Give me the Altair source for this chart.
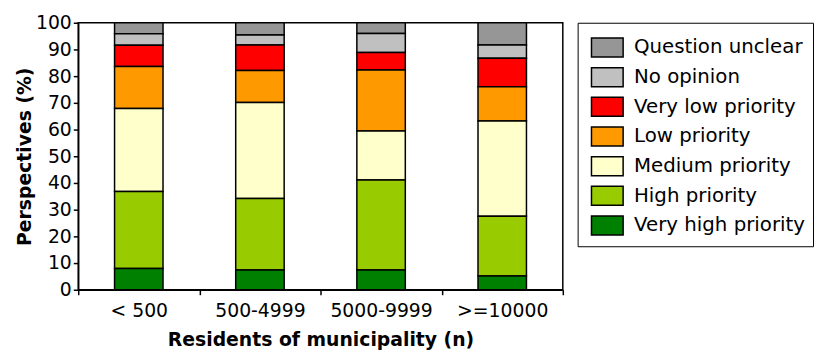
import altair as alt
import pandas as pd

groups = ["< 500", "500-4999", "5000-9999", ">=10000"]
categories = ["Question unclear", "No opinion", "Very low priority", "Low priority",
              "Medium priority", "High priority", "Very high priority"]
colors = ["#969696", "#c0c0c0", "#ff0000", "#ff9900", "#ffffcc", "#99cc00", "#008000"]

# values per category (same order as categories), one entry per group
question_unclear = [4.1, 4.6, 4.0, 8.3]
no_opinion = [4.3, 3.7, 7.1, 5.0]
very_low = [8.0, 9.6, 6.6, 10.7]
low = [15.7, 12.0, 22.8, 12.8]
medium = [31.1, 35.9, 18.4, 35.7]
high = [28.8, 26.8, 33.7, 22.3]
very_high = [8.0, 7.4, 7.4, 5.2]

series = [question_unclear, no_opinion, very_low, low, medium, high, very_high]

rows = []
for ci, (cat, vals) in enumerate(zip(categories, series)):
    for g, v in zip(groups, vals):
        rows.append({"group": g, "category": cat, "value": v, "stack": len(categories) - ci})
df = pd.DataFrame(rows)

FONT = "DejaVu Sans"

chart = alt.Chart(df).mark_bar(
    width={"band": 0.4}, stroke="black", strokeWidth=1.5
).encode(
    x=alt.X("group:N", sort=groups, scale=alt.Scale(paddingInner=0, paddingOuter=0),
            axis=alt.Axis(title="Residents of municipality (n)", labelAngle=0,
                          tickBand="extent", tickSize=5, labelPadding=7,
                          titlePadding=10)),
    y=alt.Y("value:Q", stack="zero",
            scale=alt.Scale(domain=[0, 100], nice=False),
            axis=alt.Axis(title="Perspectives (%)", values=list(range(0, 101, 10)),
                          grid=False, tickSize=5, labelPadding=2, titleX=-44)),
    color=alt.Color("category:N",
                    scale=alt.Scale(domain=categories, range=colors),
                    legend=alt.Legend(title=None, orient="right", offset=15,
                                      symbolType="M-1,-0.6H1V0.6H-1Z",
                                      symbolSize=1024, symbolStrokeColor="black",
                                      symbolStrokeWidth=1.5, symbolOpacity=1,
                                      symbolOffset=5,
                                      labelFontSize=20, labelFont=FONT, labelColor="black",
                                      labelOffset=10, rowPadding=0,
                                      strokeColor="black", padding=8,
                                      labelLimit=300)),
    order=alt.Order("stack:Q", sort="ascending"),
).properties(
    width=490, height=270,
    padding={"left": 7, "top": 4, "right": 0, "bottom": 0},
).configure_view(
    stroke="black", strokeWidth=1.5
).configure_axis(
    domainColor="black", domainWidth=1.5, tickColor="black", tickWidth=1.5,
    labelFont=FONT, labelFontSize=19, labelColor="black",
    titleFont=FONT, titleFontSize=19, titleFontWeight="bold", titleColor="black",
)

chart.save("out.html", embed_options={"renderer": "svg", "actions": False})
